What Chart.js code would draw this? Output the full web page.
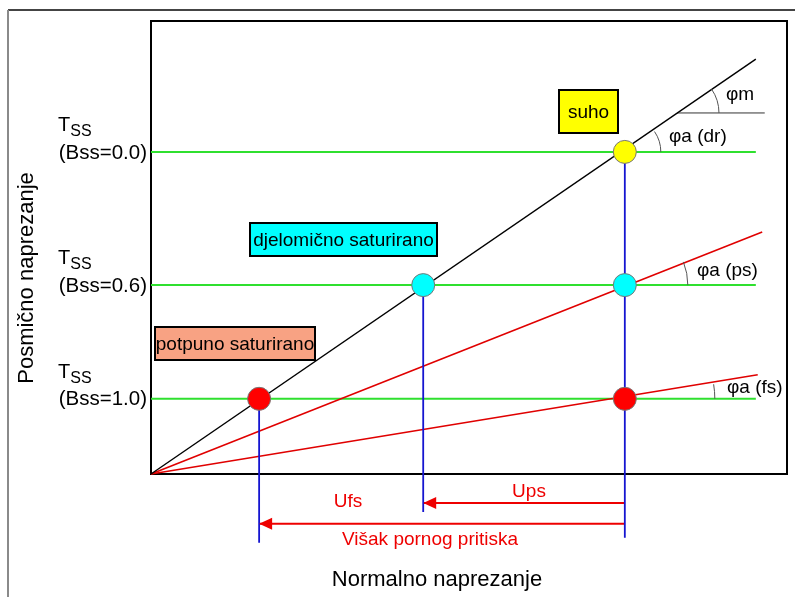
<!DOCTYPE html>
<html>
<head>
<meta charset="utf-8">
<script src="https://cdn.jsdelivr.net/npm/chart.js@4.4.0/dist/chart.umd.min.js"></script>
<style>
  body { margin: 0; background: #fff; }
  #wrap { width: 795px; height: 597px; }
</style>
</head>
<body>
<div id="wrap"><canvas id="diagram" width="795" height="597"></canvas></div>
<script>
// values (axis units 0..10 on both axes)
const levelNames = ['(Bss=0.0)', '(Bss=0.6)', '(Bss=1.0)'];
const levelY = [7.11, 4.17, 1.66];
const levelEndX = 9.51;

const dryLine = [[0, 0], [9.51, 9.16]];       // phi m
const partLine = [[0, 0], [9.61, 5.34]];      // phi a (ps)
const fullLine = [[0, 0], [9.54, 2.19]];      // phi a (fs)
const refLine = [[8.27, 7.97], [9.65, 7.97]]; // horizontal for phi m

const dotX = [7.45, 4.28, 7.45, 1.70, 7.45];
const dotY = [7.11, 4.17, 4.17, 1.66, 1.66];
const dotColors = ['#ffff00', '#00ffff', '#00ffff', '#ff0000', '#ff0000'];

const dropX = [1.70, 4.28, 7.45];
const dropTop = [1.66, 4.17, 7.11];
const dropBottom = [-1.52, -0.84, -1.41];

const arrowFrom = [7.45, 7.45];
const arrowTo = [4.28, 1.70];
const arrowY = [-0.64, -1.10];

function pts(arr) { return arr.map(p => ({x: p[0], y: p[1]})); }

function lineSet(data, color, width) {
  return {
    type: 'scatter', data: data, showLine: true, borderColor: color,
    borderWidth: width, pointRadius: 0, clip: false, order: 1
  };
}

const datasets = [];
// dots on top
datasets.push({
  type: 'scatter',
  data: dotX.map((x, i) => ({x: x, y: dotY[i]})),
  pointRadius: 11.5, pointHoverRadius: 11.5,
  backgroundColor: dotColors, borderColor: '#777', borderWidth: 1,
  clip: false, order: 0
});
dropX.forEach((x, i) => {
  datasets.push(lineSet([{x: x, y: dropTop[i]}, {x: x, y: dropBottom[i]}], '#1515d0', 1.8));
});
datasets.push(lineSet(pts(dryLine), '#000', 1.4));
datasets.push(lineSet(pts(partLine), '#e00000', 1.6));
datasets.push(lineSet(pts(fullLine), '#e00000', 1.6));
datasets.push(lineSet(pts(refLine), '#333', 1));
levelY.forEach(y => {
  datasets.push(lineSet([{x: 0, y: y}, {x: levelEndX, y: y}], '#2fe02f', 2));
});
arrowFrom.forEach((x, i) => {
  datasets.push(lineSet([{x: x, y: arrowY[i]}, {x: arrowTo[i], y: arrowY[i]}], '#ee0000', 2));
});

const FONT = '"Liberation Sans", Arial, sans-serif';

function box(ctx, x1, y1, x2, y2, fill, label) {
  ctx.fillStyle = fill;
  ctx.fillRect(x1, y1, x2 - x1, y2 - y1);
  ctx.strokeStyle = '#000';
  ctx.lineWidth = 2;
  ctx.strokeRect(x1, y1, x2 - x1, y2 - y1);
  ctx.fillStyle = '#000';
  ctx.font = '19px ' + FONT;
  ctx.textAlign = 'center';
  ctx.textBaseline = 'middle';
  ctx.fillText(label, (x1 + x2) / 2, (y1 + y2) / 2 + 1);
}

function angleArc(ctx, xs, ys, cx, cy, r, line) {
  const px = xs.getPixelForValue(cx), py = ys.getPixelForValue(cy);
  const dx = xs.getPixelForValue(line[1][0]) - xs.getPixelForValue(line[0][0]);
  const dy = ys.getPixelForValue(line[1][1]) - ys.getPixelForValue(line[0][1]);
  ctx.beginPath();
  ctx.arc(px, py, r, Math.atan2(dy, dx), 0);
  ctx.strokeStyle = '#555';
  ctx.lineWidth = 1;
  ctx.stroke();
}

const diagramPlugin = {
  id: 'diagram',
  beforeDraw(chart) {
    const ctx = chart.ctx;
    ctx.save();
    ctx.fillStyle = '#fff';
    ctx.fillRect(0, 0, chart.width, chart.height);
    ctx.lineWidth = 2;
    ctx.strokeStyle = '#444';
    ctx.beginPath(); ctx.moveTo(8, 10); ctx.lineTo(chart.width, 10); ctx.stroke();
    ctx.strokeStyle = '#8a8a8a';
    ctx.beginPath(); ctx.moveTo(8, 10); ctx.lineTo(8, chart.height); ctx.stroke();
    const a = chart.chartArea;
    ctx.strokeStyle = '#000';
    ctx.lineWidth = 2;
    ctx.strokeRect(a.left, a.top, a.right - a.left, a.bottom - a.top);
    ctx.restore();
  },
  afterDatasetsDraw(chart) {
    const ctx = chart.ctx, xs = chart.scales.x, ys = chart.scales.y;
    ctx.save();

    // level labels
    levelY.forEach((v, i) => {
      const py = ys.getPixelForValue(v);
      ctx.fillStyle = '#000';
      ctx.textBaseline = 'alphabetic';
      ctx.textAlign = 'left';
      ctx.font = '20px ' + FONT;
      ctx.fillText('T', 58, py - 21);
      const tw = ctx.measureText('T').width;
      ctx.font = '16px ' + FONT;
      ctx.fillText('SS', 58 + tw, py - 16);
      ctx.font = '20.5px ' + FONT;
      ctx.textAlign = 'right';
      ctx.textBaseline = 'middle';
      ctx.fillText(levelNames[i], 147, py + 1);
    });

    // arrowheads
    arrowTo.forEach((x, i) => {
      const px = xs.getPixelForValue(x), py = ys.getPixelForValue(arrowY[i]);
      ctx.fillStyle = '#ee0000';
      ctx.beginPath();
      ctx.moveTo(px, py);
      ctx.lineTo(px + 13, py - 6);
      ctx.lineTo(px + 13, py + 6);
      ctx.closePath();
      ctx.fill();
    });

    // angle arcs
    angleArc(ctx, xs, ys, refLine[0][0], refLine[0][1], 42, dryLine);
    angleArc(ctx, xs, ys, dotX[0], dotY[0], 36, dryLine);
    angleArc(ctx, xs, ys, dotX[2], dotY[2], 63, partLine);
    angleArc(ctx, xs, ys, dotX[4], dotY[4], 90, fullLine);

    // angle labels
    ctx.fillStyle = '#000';
    ctx.font = '19px ' + FONT;
    ctx.textAlign = 'left';
    ctx.textBaseline = 'middle';
    ctx.fillText('φm', 726, 95);
    ctx.fillText('φa (dr)', 669, 137);
    ctx.fillText('φa (ps)', 697, 271);
    ctx.fillText('φa (fs)', 727, 388);

    // state boxes
    box(ctx, 559, 90, 618, 133, '#ffff00', 'suho');
    box(ctx, 250, 223, 437, 256, '#00ffff', 'djelomično saturirano');
    box(ctx, 155, 327, 315, 360, '#f8a283', 'potpuno saturirano');

    // arrow labels
    ctx.fillStyle = '#ee0000';
    ctx.textAlign = 'center';
    ctx.fillText('Ups', 529, 492);
    ctx.fillText('Ufs', 348, 502);
    ctx.fillText('Višak pornog pritiska', 430, 540);

    // axis titles
    ctx.fillStyle = '#000';
    ctx.font = '22px ' + FONT;
    ctx.fillText('Normalno naprezanje', 437, 580);
    ctx.translate(27, 278);
    ctx.rotate(-Math.PI / 2);
    ctx.fillText('Posmično naprezanje', 0, 0);
    ctx.restore();
  }
};

new Chart(document.getElementById('diagram'), {
  type: 'scatter',
  data: { datasets: datasets },
  options: {
    responsive: false,
    animation: false,
    events: [],
    layout: { autoPadding: false, padding: { left: 151, right: 8, top: 21, bottom: 123 } },
    scales: {
      x: { type: 'linear', min: 0, max: 10, display: false },
      y: { type: 'linear', min: 0, max: 10, display: false }
    },
    plugins: { legend: { display: false }, tooltip: { enabled: false } }
  },
  plugins: [diagramPlugin]
});
</script>
</body>
</html>
